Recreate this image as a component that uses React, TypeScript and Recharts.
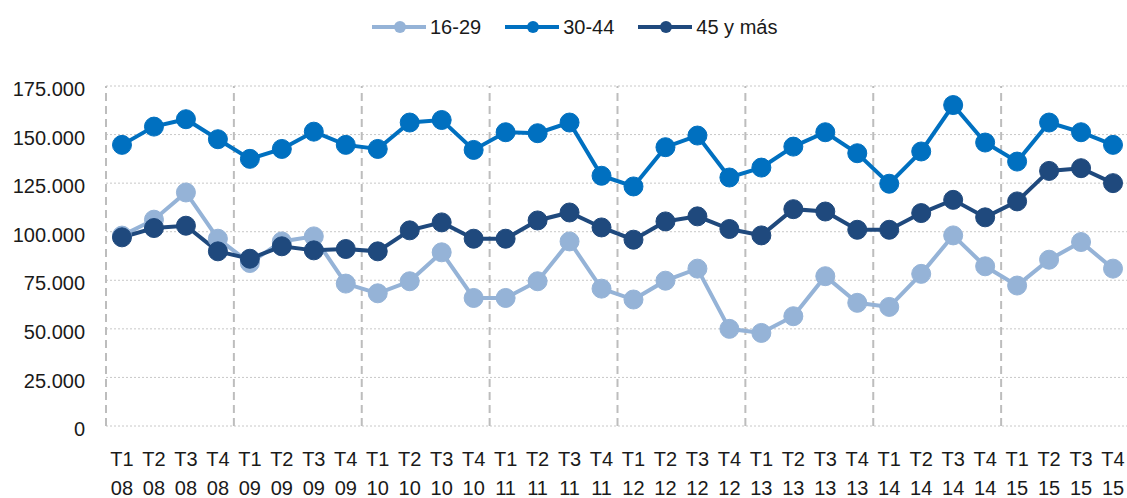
import React from 'react';
import {
  ComposedChart,
  Line,
  XAxis,
  YAxis,
  CartesianGrid,
  ReferenceLine,
  Legend,
} from 'recharts';

const categories = [
  'T1 08', 'T2 08', 'T3 08', 'T4 08',
  'T1 09', 'T2 09', 'T3 09', 'T4 09',
  'T1 10', 'T2 10', 'T3 10', 'T4 10',
  'T1 11', 'T2 11', 'T3 11', 'T4 11',
  'T1 12', 'T2 12', 'T3 12', 'T4 12',
  'T1 13', 'T2 13', 'T3 13', 'T4 13',
  'T1 14', 'T2 14', 'T3 14', 'T4 14',
  'T1 15', 'T2 15', 'T3 15', 'T4 15',
];

const ages16to29 = [
  98000, 106200, 120200, 96400, 83900, 95000, 97600, 73300,
  68300, 74500, 89400, 65900, 65900, 74500, 95000, 70700,
  65100, 74800, 81000, 50000, 47900, 56500, 77100, 63400,
  61300, 78300, 98100, 82200, 72300, 85600, 94700, 81000,
];

const ages30to44 = [
  144700, 154100, 157900, 147600, 137500, 142600, 151500, 144700,
  142600, 156200, 157500, 142100, 151200, 150700, 156200, 128800,
  123300, 143500, 149500, 127900, 133000, 143800, 151200, 140400,
  124700, 141300, 165200, 145900, 136100, 156200, 151200, 144700,
];

const ages45plus = [
  97100, 101900, 103100, 89900, 86100, 92500, 90400, 91100,
  89900, 100700, 104800, 96400, 96400, 105800, 109900, 102200,
  95900, 105300, 107900, 101400, 98100, 111600, 110400, 101000,
  101000, 109600, 116400, 107400, 115600, 131300, 132700, 125000,
];

const yTicks = [0, 25000, 50000, 75000, 100000, 125000, 150000, 175000];
const yearStarts = ['T1 08', 'T1 09', 'T1 10', 'T1 11', 'T1 12', 'T1 13', 'T1 14', 'T1 15'];

const data = categories.map((label, i) => ({
  label,
  a: ages16to29[i],
  b: ages30to44[i],
  c: ages45plus[i],
}));

const COLORS = { a: '#95b3d7', b: '#0070c0', c: '#1f497d' };
const TEXT = '#1a1a1a';

const fmt = (v: number) => (v === 0 ? '0' : String(v).replace(/\B(?=(\d{3})+(?!\d))/g, '.'));

const QuarterTick = ({ x, y, payload }: any) => {
  const [q, yr] = String(payload.value).split(' ');
  return (
    <text x={x} y={y} textAnchor="middle" fill={TEXT} fontSize={20}>
      <tspan x={x} dy={40}>{q}</tspan>
      <tspan x={x} dy={29}>{yr}</tspan>
    </text>
  );
};

const LegendContent = ({ payload }: any) => (
  <div style={{ display: 'flex', alignItems: 'center', height: 30, paddingLeft: 372 }}>
    {(payload || []).map((entry: any) => (
      <div key={entry.value} style={{ display: 'flex', alignItems: 'center', marginRight: 24 }}>
        <svg width={54} height={14}>
          <line x1={0} y1={7} x2={54} y2={7} stroke={entry.color} strokeWidth={4} />
          <circle cx={28} cy={7} r={6} fill={entry.color} />
        </svg>
        <span style={{ marginLeft: 4, fontSize: 20, color: TEXT }}>{entry.value}</span>
      </div>
    ))}
  </div>
);

export default function App() {
  return (
    <div
      style={{
        position: 'absolute',
        left: 0,
        top: 0,
        width: 1127,
        height: 498,
        overflow: 'hidden',
        background: '#fff',
        fontFamily: "'Liberation Sans', Arial, sans-serif",
      }}
    >
      <ComposedChart width={1130} height={498} data={data} margin={{ top: 56, right: 1, left: 0, bottom: 0 }}>
        <CartesianGrid vertical={false} stroke="#c8c8c8" strokeDasharray="2 2" />
        <XAxis
          dataKey="label"
          scale="band"
          interval={0}
          height={72}
          tickLine={false}
          axisLine={false}
          tickSize={0}
          tickMargin={0}
          tick={<QuarterTick />}
        />
        <YAxis
          width={106}
          domain={[0, 175000]}
          ticks={yTicks}
          tickFormatter={fmt}
          tickLine={false}
          axisLine={false}
          tickSize={0}
          tickMargin={21}
          tick={{ fill: TEXT, fontSize: 20, dy: 3 }}
        />
        {yearStarts.map((c) => (
          <ReferenceLine key={c} x={c} position="start" stroke="#bdbdbd" strokeWidth={2} strokeDasharray="8 5" />
        ))}
        <Legend verticalAlign="top" content={<LegendContent />} wrapperStyle={{ top: 12, left: 0 }} />
        <Line
          name="16-29"
          dataKey="a"
          stroke={COLORS.a}
          strokeWidth={4}
          dot={{ r: 9.5, fill: COLORS.a, stroke: COLORS.a, strokeWidth: 1 }}
          activeDot={false}
          isAnimationActive={false}
        />
        <Line
          name="30-44"
          dataKey="b"
          stroke={COLORS.b}
          strokeWidth={4}
          dot={{ r: 9.5, fill: COLORS.b, stroke: COLORS.b, strokeWidth: 1 }}
          activeDot={false}
          isAnimationActive={false}
        />
        <Line
          name="45 y más"
          dataKey="c"
          stroke={COLORS.c}
          strokeWidth={4}
          dot={{ r: 9.5, fill: COLORS.c, stroke: COLORS.c, strokeWidth: 1 }}
          activeDot={false}
          isAnimationActive={false}
        />
      </ComposedChart>
    </div>
  );
}
